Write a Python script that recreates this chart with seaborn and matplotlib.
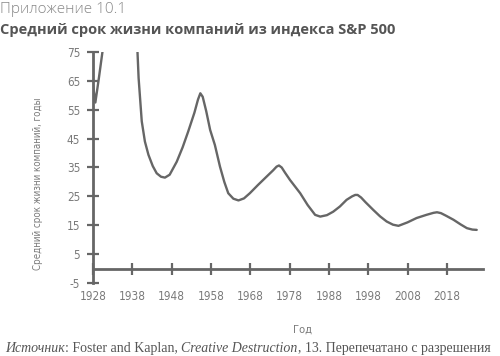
import matplotlib
matplotlib.use("Agg")
import matplotlib.pyplot as plt
from matplotlib.text import Annotation
import seaborn as sns
import pandas as pd

# Values (above 75 is clipped in the original)
years = [1928.0, 1928.6, 1929.5, 1930.4, 1931.5, 1934.0, 1937.0, 1939.0, 1939.6,
         1940.4, 1941.2, 1942.1, 1943.2, 1944.2, 1945.3, 1946.3, 1947.5, 1949.3,
         1950.8, 1952.2, 1953.8, 1954.7, 1955.3, 1955.9, 1956.8, 1957.8, 1959.0,
         1960.3, 1961.4, 1962.4, 1963.7, 1965.0, 1966.4, 1967.9, 1970.0, 1972.2,
         1973.8, 1974.7, 1975.3, 1976.0, 1976.8, 1978.1, 1980.7, 1982.6, 1984.5,
         1985.8, 1987.5, 1989.1, 1990.8, 1992.5, 1993.9, 1994.7, 1995.3, 1996.2,
         1997.3, 1999.3, 2001.0, 2002.7, 2004.3, 2005.7, 2008.0, 2010.3, 2012.8,
         2014.6, 2015.5, 2016.5, 2017.8, 2019.7, 2021.5, 2023.1, 2024.5, 2025.6]
lifespan = [63.5, 57.5, 66.0, 75.0, 85.0, 95.0, 95.0, 85.0, 66.0,
            51.0, 44.0, 39.4, 35.5, 33.0, 31.8, 31.5, 32.5, 37.0,
            42.0, 47.4, 54.0, 58.5, 60.7, 59.5, 54.5, 48.0, 42.8,
            35.3, 30.0, 26.1, 24.2, 23.6, 24.3, 26.1, 29.0, 31.9,
            34.0, 35.3, 35.7, 35.0, 33.3, 30.7, 26.1, 22.0, 18.6,
            18.0, 18.5, 19.7, 21.5, 23.8, 25.0, 25.5, 25.5, 24.6,
            23.0, 20.3, 18.1, 16.3, 15.2, 14.8, 16.0, 17.5, 18.6,
            19.3, 19.5, 19.2, 18.3, 16.9, 15.3, 14.0, 13.5, 13.4]
x_ticks = [1928, 1938, 1948, 1958, 1968, 1978, 1988, 1998, 2008, 2018]
y_ticks = [-5, 5, 15, 25, 35, 45, 55, 65, 75]

title_small = "Приложение 10.1"
title_bold = "Средний срок жизни компаний из индекса S&P 500"
y_label = "Средний срок жизни компаний, годы"
x_label = "Год"
source = [("Источник", "italic"), (": Foster and Kaplan, ", "normal"),
          ("Creative Destruction", "italic"), (", 13. Перепечатано с разрешения", "normal")]

df = pd.DataFrame({"year": years, "life": lifespan})

sns.set_style("white")
plt.rcParams["axes.unicode_minus"] = False
grey = "#666666"
light = "#7a7a7a"
narrow = ["Liberation Sans Narrow", "DejaVu Sans"]

fig = plt.figure(figsize=(5.0, 3.56), dpi=100)
ax = fig.add_axes([0.186, 0.205, 0.78, 0.649])

sns.lineplot(data=df, x="year", y="life", ax=ax, color=grey, linewidth=1.7)
ax.lines[0].set_solid_joinstyle("round")

ax.set_xlim(1928, 2027.2)
ax.set_ylim(-5, 75)
ax.set_xticks(x_ticks)
ax.set_yticks(y_ticks)
ax.set_xlabel("")
ax.set_ylabel("")

for s in ["top", "right"]:
    ax.spines[s].set_visible(False)
ax.spines["left"].set_color(grey)
ax.spines["left"].set_linewidth(2.0)
ax.spines["bottom"].set_position(("data", 0))
ax.spines["bottom"].set_color(grey)
ax.spines["bottom"].set_linewidth(2.0)

ax.tick_params(axis="both", bottom=True, left=True, direction="inout",
               length=8.5, width=1.6, color=grey, labelcolor=light, labelsize=8.5)
ax.tick_params(axis="x", pad=11)
ax.tick_params(axis="y", pad=5)
for lab in ax.get_xticklabels() + ax.get_yticklabels():
    lab.set_fontfamily(narrow)
    lab.set_fontstretch("condensed")

fig.text(0.0, 0.995, title_small, ha="left", va="top", fontsize=11,
         color="#888888", family="Open Sans", fontweight="light")
fig.text(0.0, 0.935, title_bold, ha="left", va="top", fontsize=10.5,
         color="#555555", family="Open Sans", fontweight="bold")

fig.text(0.076, 0.483, y_label, rotation=90, ha="center", va="center",
         fontsize=7, color=light, family=narrow, fontstretch="condensed")
fig.text(0.606, 0.073, x_label, ha="center", va="center",
         fontsize=8, color=light, family=narrow, fontstretch="condensed")

# source line: pieces chained one after another, mixed italic / roman
anchor = fig.text(0.01, 0.022, source[0][0], ha="left", va="center", fontsize=10,
                  color="#555555", family="Liberation Serif", style=source[0][1])
for txt, st in source[1:]:
    anchor = fig.add_artist(Annotation(
        txt, xy=(1, 0), xycoords=anchor, ha="left", va="bottom",
        fontsize=10, color="#555555", family="Liberation Serif", style=st))

fig.savefig("out.png", dpi=100)
